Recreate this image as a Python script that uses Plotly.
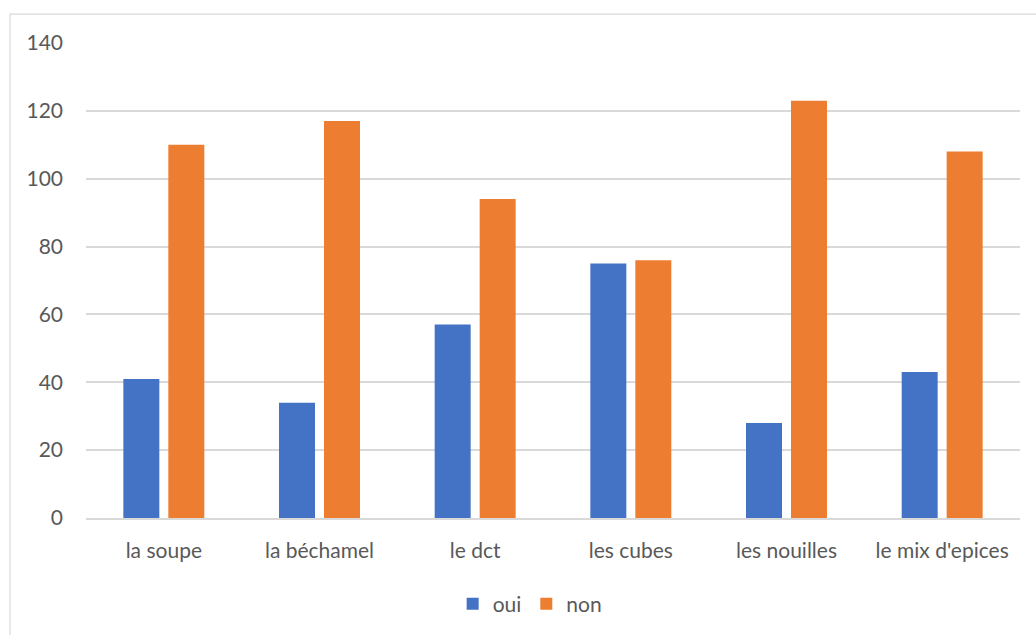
import plotly.graph_objects as go

categories = ["la soupe", "la béchamel", "le dct", "les cubes", "les nouilles", "le mix d'epices"]
oui = [41, 34, 57, 75, 28, 43]
non = [110, 117, 94, 76, 123, 108]
y_ticks = [0, 20, 40, 60, 80, 100, 120, 140]

FONT = "Lato, 'Open Sans', sans-serif"
FS = 21
W, H = 1036, 635
L, R, T, B = 86, 16, 43, 116
pw, ph = W - L - R, H - T - B

fig = go.Figure()
fig.add_trace(go.Bar(name="oui", x=categories, y=oui, marker=dict(color="#4472C4", line=dict(width=0))))
fig.add_trace(go.Bar(name="non", x=categories, y=non, marker=dict(color="#ED7D31", line=dict(width=0))))

fig.update_layout(
    width=W, height=H,
    margin=dict(l=L, r=R, t=T, b=B),
    paper_bgcolor="white", plot_bgcolor="white",
    barmode="group", bargap=0.422, bargroupgap=0.2,
    font=dict(family=FONT, size=FS, color="#595959"),
    showlegend=True,
    legend=dict(orientation="h", x=0.475, xanchor="center", y=(519 - 604) / ph, yanchor="middle",
                font=dict(size=FS, color="#595959"), itemwidth=30, traceorder="normal"),
    xaxis=dict(showgrid=False, showline=True, linecolor="#D9D9D9", linewidth=1.5,
               ticks="", ticklabelstandoff=13, tickfont=dict(size=FS, color="#595959")),
    yaxis=dict(range=[0, 140], tickvals=y_ticks, showgrid=True, gridcolor="#D9D9D9", gridwidth=1.5,
               zeroline=False, showline=False, ticks="", ticklabelstandoff=22,
               tickfont=dict(size=FS, color="#595959")),
    shapes=[dict(type="rect", xref="paper", yref="paper",
                 x0=(10 - L) / pw, x1=(1045 - L) / pw,
                 y0=(519 - 645) / ph, y1=1 + (T - 14) / ph,
                 line=dict(color="#D9D9D9", width=1.2), layer="below")],
)

fig.write_html("out.html")
